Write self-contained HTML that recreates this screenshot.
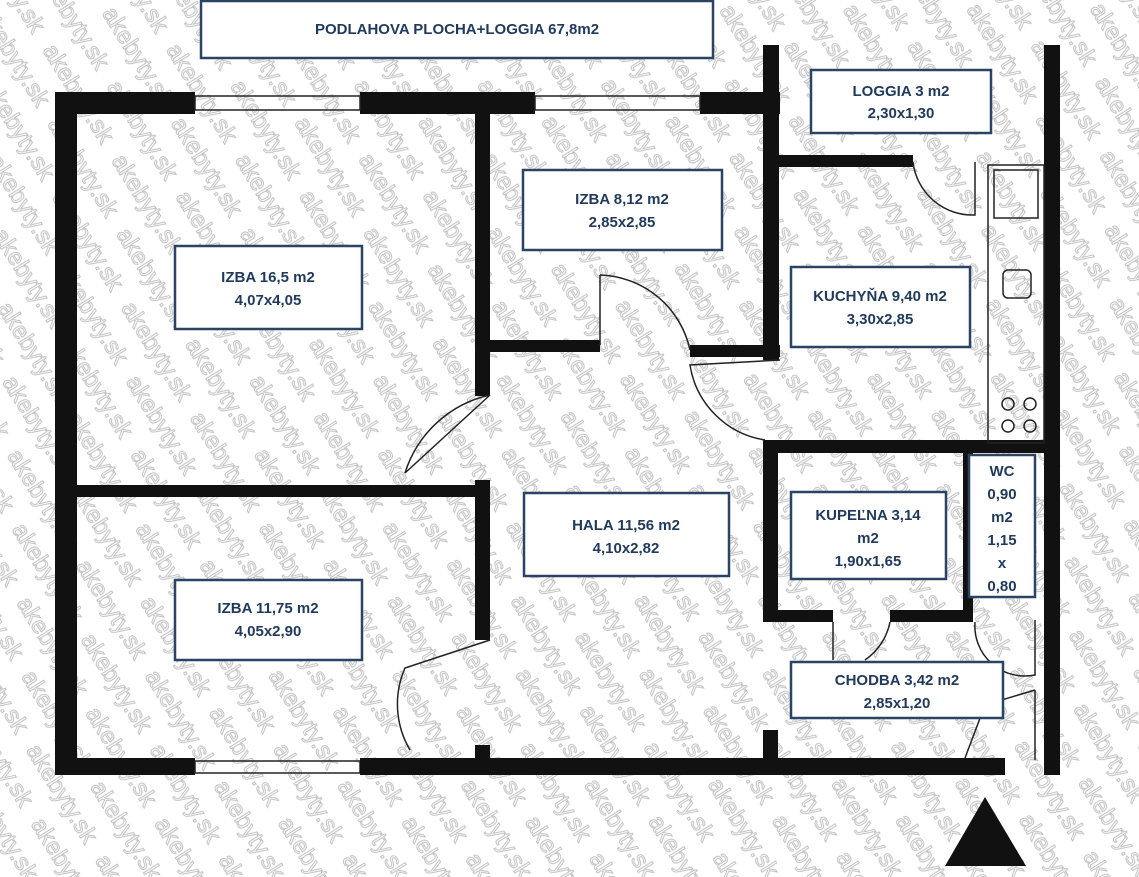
<!DOCTYPE html>
<html><head><meta charset="utf-8"><style>
html,body{margin:0;padding:0;background:#fff}
svg{display:block}
.b{fill:#fff;stroke:#2b4466;stroke-width:2.5}
.t{font-family:"Liberation Sans",sans-serif;font-weight:bold;font-size:15px;fill:#1f3a5c;text-anchor:middle}
.w{fill:#111}
.l{fill:none;stroke:#222;stroke-width:1.5}
</style></head><body>
<svg width="1139" height="877" viewBox="0 0 1139 877" xmlns="http://www.w3.org/2000/svg">
<defs>
<pattern id="wm" width="130" height="70" patternUnits="userSpaceOnUse" patternTransform="rotate(58)">
<text x="0" y="26" font-family="Liberation Sans,sans-serif" font-size="24" fill="none" stroke="#c2c2c2" stroke-width="1">akebyty.sk</text>
<text x="-65" y="61" font-family="Liberation Sans,sans-serif" font-size="24" fill="none" stroke="#c2c2c2" stroke-width="1">akebyty.sk</text>
<text x="65" y="61" font-family="Liberation Sans,sans-serif" font-size="24" fill="none" stroke="#c2c2c2" stroke-width="1">akebyty.sk</text>
</pattern>
</defs>
<rect width="1139" height="877" fill="#fff"/>
<rect width="1139" height="877" fill="url(#wm)"/>
<!-- walls -->
<rect class="w" x="55" y="92" width="140" height="22"/>
<rect class="w" x="360" y="92" width="175" height="22"/>
<rect class="w" x="700" y="92" width="80" height="22"/>
<rect class="l" x="195" y="96" width="165" height="14"/>
<rect class="l" x="535" y="96" width="165" height="14"/>
<rect class="w" x="55" y="92" width="22" height="683"/>
<rect class="w" x="55" y="758" width="140" height="17"/>
<rect class="l" x="195" y="761" width="165" height="12"/>
<rect class="w" x="360" y="758" width="645" height="17"/>
<rect class="w" x="763" y="45" width="16" height="120"/>
<rect class="w" x="1044" y="45" width="16" height="730"/>
<rect class="w" x="763" y="155" width="150" height="12"/>
<rect class="w" x="763" y="155" width="16" height="205"/>
<rect class="w" x="475" y="114" width="15" height="282"/>
<rect class="w" x="475" y="480" width="15" height="160"/>
<rect class="w" x="475" y="745" width="15" height="20"/>
<rect class="w" x="77" y="485" width="410" height="12"/>
<rect class="w" x="490" y="340" width="110" height="12"/>
<rect class="w" x="690" y="345" width="90" height="12"/>
<rect class="w" x="763" y="440" width="290" height="13"/>
<rect class="w" x="763" y="440" width="15" height="182"/>
<rect class="w" x="763" y="610" width="70" height="12"/>
<rect class="w" x="890" y="610" width="80" height="12"/>
<rect class="w" x="963" y="452" width="10" height="170"/>
<rect class="w" x="763" y="730" width="15" height="45"/>
<!-- counter & fixtures -->
<rect class="l" x="988" y="165" width="56" height="278"/>
<rect class="l" x="994" y="170" width="44" height="48"/>
<rect class="l" x="1003" y="270" width="28" height="28" rx="5"/>
<circle class="l" cx="1008" cy="404" r="6"/><circle class="l" cx="1030" cy="404" r="6"/>
<circle class="l" cx="1008" cy="426" r="6"/><circle class="l" cx="1030" cy="426" r="6"/>
<!-- doors -->
<path class="l" d="M490 395 L405 473 M405 473 A115 115 0 0 1 490 395"/>
<path class="l" d="M490 640 L405 668 A90 90 0 0 0 410 750"/>
<path class="l" d="M600 275 L600 345 M600 275 A95 95 0 0 1 690 350"/>
<path class="l" d="M780 360 L690 365 A90 90 0 0 0 765 440"/>
<path class="l" d="M913 162 A60 60 0 0 0 975 215 L975 162"/>
<path class="l" d="M833 622 L833 660 M890 622 A60 60 0 0 1 865 660"/>
<path class="l" d="M975 622 A50 50 0 0 0 1035 675 L1035 620"/>
<path class="l" d="M1035 690 L985 705 L965 758 M1035 690 L1035 760"/>
<!-- labels -->
<rect class="b" x="201" y="1" width="512" height="57"/>
<text class="t" x="457" y="34">PODLAHOVA PLOCHA+LOGGIA 67,8m2</text>
<rect class="b" x="811" y="70" width="180" height="63"/>
<text class="t" x="901" y="96">LOGGIA  3 m2</text><text class="t" x="901" y="118">2,30x1,30</text>
<rect class="b" x="523" y="170" width="199" height="80"/>
<text class="t" x="622" y="204">IZBA  8,12 m2</text><text class="t" x="622" y="227">2,85x2,85</text>
<rect class="b" x="175" y="246" width="187" height="83"/>
<text class="t" x="268" y="282">IZBA  16,5 m2</text><text class="t" x="268" y="305">4,07x4,05</text>
<rect class="b" x="791" y="267" width="179" height="80"/>
<text class="t" x="880" y="301">KUCHYŇA  9,40 m2</text><text class="t" x="880" y="324">3,30x2,85</text>
<rect class="b" x="524" y="493" width="205" height="83"/>
<text class="t" x="626" y="530">HALA  11,56 m2</text><text class="t" x="626" y="553">4,10x2,82</text>
<rect class="b" x="791" y="492" width="155" height="87"/>
<text class="t" x="868" y="520">KUPEĽNA  3,14</text><text class="t" x="868" y="543">m2</text><text class="t" x="868" y="566">1,90x1,65</text>
<rect class="b" x="969" y="455" width="66" height="142"/>
<text class="t" x="1002" y="476">WC</text><text class="t" x="1002" y="499">0,90</text><text class="t" x="1002" y="522">m2</text><text class="t" x="1002" y="545">1,15</text><text class="t" x="1002" y="568">x</text><text class="t" x="1002" y="591">0,80</text>
<rect class="b" x="175" y="580" width="187" height="80"/>
<text class="t" x="268" y="613">IZBA  11,75 m2</text><text class="t" x="268" y="636">4,05x2,90</text>
<rect class="b" x="791" y="662" width="212" height="56"/>
<text class="t" x="897" y="685">CHODBA  3,42 m2</text><text class="t" x="897" y="708">2,85x1,20</text>
<polygon points="985,797 945,866 1026,866" fill="#111"/>
</svg>
</body></html>
